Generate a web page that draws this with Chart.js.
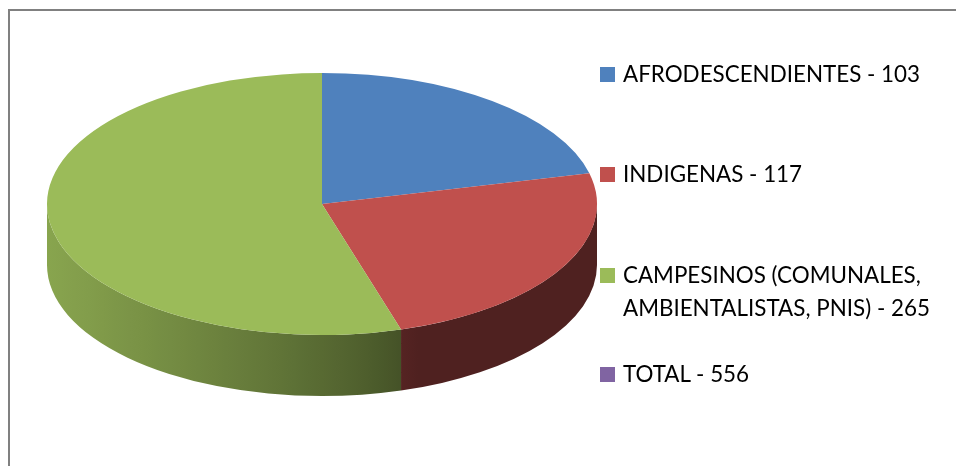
<!DOCTYPE html>
<html>
<head>
<meta charset="utf-8">
<script src="https://cdn.jsdelivr.net/npm/chart.js@4/dist/chart.umd.min.js"></script>
<style>
  html, body { margin: 0; padding: 0; background: #fff; }
  #wrap { position: relative; width: 956px; height: 466px; overflow: hidden; background: #fff; }
  #frame { position: absolute; left: 8px; top: 9px; width: 1100px; height: 600px;
           border-top: 2px solid #808080; border-left: 2px solid #808080; box-sizing: border-box; }
  canvas { position: absolute; left: 0; top: 0; }
  .lg-item { position: absolute; left: 600px; width: 345px; font-family: Lato, "Open Sans", sans-serif;
             font-size: 22.4px; line-height: 33px; color: #000; }
  .lg-box { position: absolute; left: 0; width: 15px; height: 15px; }
  .lg-text { margin-left: 23px; }
</style>
</head>
<body>
<div id="wrap">
  <div id="frame"></div>
  <canvas id="c" width="956" height="466"></canvas>
  <div id="legend"></div>
</div>
<script>
// ---- data ----
const categories = [
  'AFRODESCENDIENTES - 103',
  'INDIGENAS - 117',
  'CAMPESINOS (COMUNALES, AMBIENTALISTAS, PNIS) - 265',
  'TOTAL - 556'
];
const values = [103, 117, 265, 0];
const colors = ['#4F81BD', '#C0504D', '#9BBB59', '#8064A2'];

// ---- layout / style ----
const PIE = { cx: 322, cy: 204, rx: 275, ry: 131, depth: 61 };
const legendCapTops = [66, 166, 267, 366];

function hexToRgb(h) {
  const n = parseInt(h.slice(1), 16);
  return [(n >> 16) & 255, (n >> 8) & 255, n & 255];
}
function shade(h, f) {
  const [r, g, b] = hexToRgb(h);
  return 'rgb(' + Math.round(r * f) + ',' + Math.round(g * f) + ',' + Math.round(b * f) + ')';
}

const pie3d = {
  id: 'pie3d',
  beforeDatasetsDraw(chart) {
    const ctx = chart.ctx;
    const arcs = chart.getDatasetMeta(0).data;
    const { cx, cy, rx, ry, depth } = PIE;
    const xDark = cx + 0.335 * rx; // where the side shading reaches its darkest
    // side walls (front half only)
    arcs.forEach((arc, i) => {
      const s = arc.startAngle, e = arc.endAngle;
      if (e - s <= 0) return;
      const base = chart.data.datasets[0].backgroundColor[i];
      const grad = ctx.createLinearGradient(cx - rx, 0, cx + rx, 0);
      for (let j = 0; j <= 40; j++) {
        const t = j / 40;
        const x = cx - rx + t * 2 * rx;
        const p = Math.min(1, (x - (cx - rx)) / (xDark - (cx - rx)));
        grad.addColorStop(t, shade(base, 0.41 + 0.47 * Math.pow(1 - p, 0.8)));
      }
      for (const k of [-2 * Math.PI, 0, 2 * Math.PI]) {
        const lo = Math.max(s, k), hi = Math.min(e, k + Math.PI);
        if (hi > lo) {
          ctx.beginPath();
          ctx.ellipse(cx, cy, rx, ry, 0, lo, hi, false);
          ctx.ellipse(cx, cy + depth, rx, ry, 0, hi, lo, true);
          ctx.closePath();
          ctx.fillStyle = grad;
          ctx.fill();
        }
      }
    });
    // squash the top face into an ellipse
    const a0 = arcs[0];
    const R = a0.outerRadius;
    ctx.save();
    ctx.translate(cx, cy);
    ctx.scale(rx / R, ry / R);
    ctx.translate(-a0.x, -a0.y);
  },
  afterDatasetsDraw(chart) {
    chart.ctx.restore();
  }
};

new Chart(document.getElementById('c'), {
  type: 'pie',
  data: {
    labels: categories,
    datasets: [{
      data: values,
      backgroundColor: colors,
      borderWidth: 0,
      clip: false
    }]
  },
  options: {
    responsive: false,
    animation: false,
    devicePixelRatio: 1,
    events: [],
    layout: { padding: { left: 222, right: 534, top: 105, bottom: 161 } },
    plugins: { legend: { display: false }, tooltip: { enabled: false } }
  },
  plugins: [pie3d]
});

// ---- legend ----
const legend = document.getElementById('legend');
categories.forEach((label, i) => {
  const item = document.createElement('div');
  item.className = 'lg-item';
  item.style.top = (legendCapTops[i] - 9) + 'px';
  const box = document.createElement('div');
  box.className = 'lg-box';
  box.style.background = colors[i];
  box.style.top = '10px';
  const txt = document.createElement('div');
  txt.className = 'lg-text';
  txt.textContent = label;
  item.appendChild(box);
  item.appendChild(txt);
  legend.appendChild(item);
});
</script>
</body>
</html>
